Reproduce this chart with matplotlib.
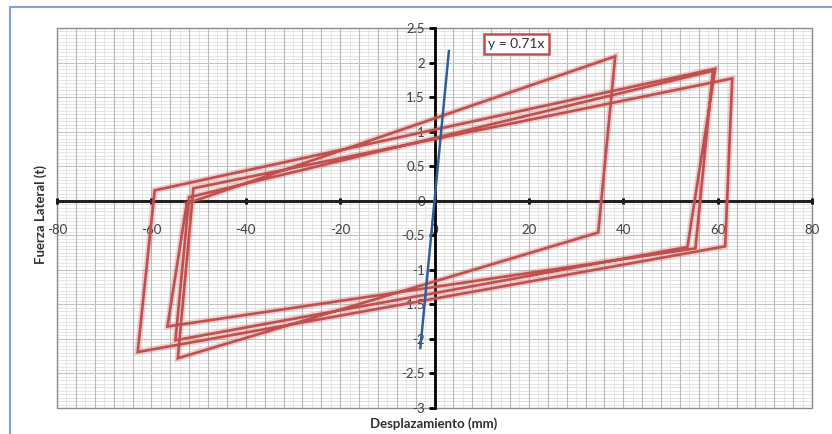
import numpy as np
import matplotlib
matplotlib.use("Agg")
import matplotlib.pyplot as plt
from matplotlib.patches import Rectangle

# hysteresis path (mm, t)
disp = [-52.5, 38.3, 34.7, -54.4, -51.1, 63.1, 61.6, -62.9, -59.3,
        59.5, 53.6, -54.9, -52.0, 59.0, 55.3, -56.6, -52.5]
force = [-0.04, 2.09, -0.46, -2.28, 0.18, 1.77, -0.66, -2.19, 0.15,
         1.91, -0.67, -2.02, 0.05, 1.88, -0.69, -1.82, -0.04]

# initial stiffness trend line
slope = 0.71
trend_x = np.array([-3.0, 3.05])

x_ticks = [-80, -60, -40, -20, 0, 20, 40, 60, 80]
y_ticks = [-3, -2.5, -2, -1.5, -1, -0.5, 0, 0.5, 1, 1.5, 2, 2.5]

RED = "#C0504D"
BLUE = "#2F5F95"

plt.rcParams["font.family"] = ["Lato", "DejaVu Sans"]

fig = plt.figure(figsize=(8.32, 4.34), dpi=100)
fig.patch.set_facecolor("white")
# outer chart border
fig.patches.append(Rectangle((10 / 832, -0.2), 2.0, 1.2 - 7 / 434,
                             transform=fig.transFigure, fill=False,
                             edgecolor="#7FA3D6", linewidth=1.5))

ax = fig.add_axes([57 / 832, 26 / 434, 755 / 832, 380 / 434])
ax.set_xlim(-80, 80)
ax.set_ylim(-3, 2.5)

# background grid
ax.vlines(np.arange(-80, 81, 2), -3, 2.5, color="#e2e2e2", lw=0.6, zorder=0)
ax.hlines(np.arange(-3, 2.51, 0.05), -80, 80, color="#e0e0e0", lw=0.6, zorder=0)
ax.vlines(np.arange(-80, 81, 4), -3, 2.5, color="#b8b8b8", lw=0.8, zorder=0)
ax.hlines(np.arange(-3, 2.51, 0.5), -80, 80, color="#c4c4c4", lw=0.8, zorder=0)

# plot frame
ax.add_patch(Rectangle((0, 0), 1, 1, transform=ax.transAxes, fill=False,
                       edgecolor="#8c8c8c", lw=1.0, zorder=1, clip_on=False))

for s in ["top", "right"]:
    ax.spines[s].set_visible(False)
ax.spines["left"].set_position("zero")
ax.spines["bottom"].set_position("zero")
ax.spines["left"].set_linewidth(2)
ax.spines["bottom"].set_linewidth(2.2)
ax.spines["left"].set_color("black")
ax.spines["bottom"].set_color("#202020")

ax.set_xticks(x_ticks)
ax.set_yticks(y_ticks)
ax.set_xticklabels([str(v) for v in x_ticks])
ax.set_yticklabels([f"{v:g}" for v in y_ticks])
ax.tick_params(axis="x", direction="inout", length=5, width=2, pad=14,
               labelsize=9.5, labelcolor="#404040")
ax.tick_params(axis="y", direction="out", length=4, width=2, pad=3,
               labelsize=9.5, labelcolor="#404040")

# loops (soft halo + line)
ax.plot(disp, force, color=RED, lw=4.5, alpha=0.25, zorder=3, solid_joinstyle="miter")
ax.plot(disp, force, color=RED, lw=1.9, zorder=4, solid_joinstyle="miter")
ax.plot(trend_x, slope * trend_x, color=BLUE, lw=1.8, zorder=5)

ax.text(17.4, 2.27, f"y = {slope}x", fontsize=10, color="#303030",
        ha="center", va="center", zorder=6,
        bbox=dict(boxstyle="square,pad=0.3", fc="white", ec=RED, lw=1.8))

fig.text(41 / 832, 1 - 215 / 434, "Fuerza Lateral (t)", rotation=90,
         ha="center", va="center", fontsize=9.5, fontweight="bold", color="#303030")
fig.text(434 / 832, 1 - 424 / 434, "Desplazamiento (mm)",
         ha="center", va="center", fontsize=9.5, fontweight="bold", color="#303030")

fig.savefig("out.png", dpi=100)
